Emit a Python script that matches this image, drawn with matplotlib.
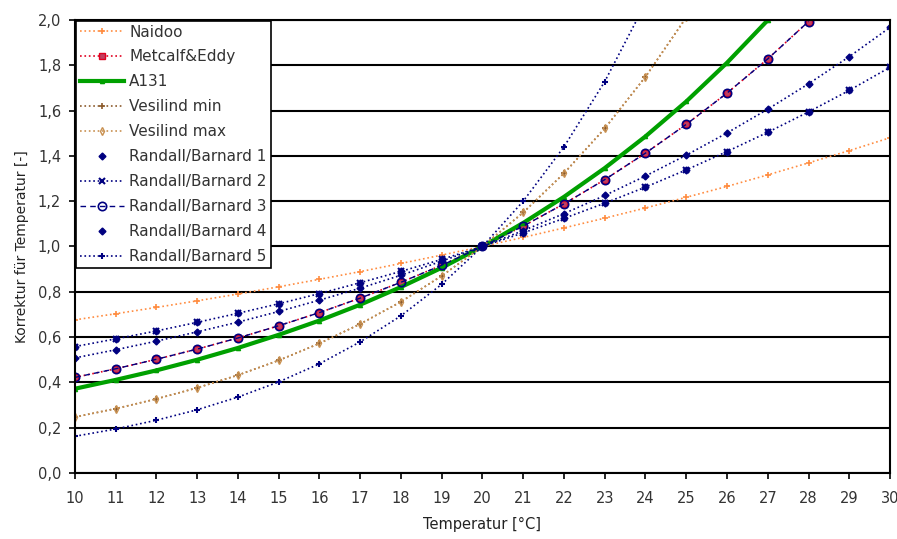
import numpy as np
import matplotlib
matplotlib.use("Agg")
import matplotlib.pyplot as plt
from matplotlib.ticker import FuncFormatter

plt.rcParams['font.family'] = ['DejaVu Sans']

# Temperatur [°C]
temp = list(range(10, 31))

naidoo = [0.676, 0.703, 0.731, 0.760, 0.790, 0.822, 0.855, 0.889, 0.925, 0.962, 1.000,
          1.040, 1.082, 1.125, 1.170, 1.217, 1.265, 1.316, 1.369, 1.423, 1.480]
metcalf = [0.422, 0.460, 0.502, 0.547, 0.596, 0.650, 0.708, 0.772, 0.842, 0.917, 1.000,
           1.090, 1.188, 1.295, 1.412, 1.539, 1.677, 1.828, 1.993]
a131 = [0.372, 0.411, 0.453, 0.500, 0.552, 0.610, 0.673, 0.743, 0.821, 0.906, 1.000,
        1.104, 1.219, 1.346, 1.486, 1.640, 1.811, 1.999]
vesilind_min = [0.247, 0.284, 0.327, 0.376, 0.432, 0.497, 0.572, 0.658, 0.756, 0.870, 1.000,
                1.150, 1.323, 1.521, 1.749, 2.011]
vesilind_max = [0.247, 0.284, 0.327, 0.376, 0.432, 0.497, 0.572, 0.658, 0.756, 0.870, 1.000,
                1.150, 1.323, 1.521, 1.749, 2.011]
rb1 = [0.558, 0.592, 0.627, 0.665, 0.705, 0.747, 0.792, 0.840, 0.890, 0.943, 1.000,
       1.060, 1.124, 1.191, 1.262, 1.338, 1.419, 1.504, 1.594, 1.689, 1.791]
rb2 = [0.558, 0.592, 0.627, 0.665, 0.705, 0.747, 0.792, 0.840, 0.890, 0.943, 1.000,
       1.060, 1.124, 1.191, 1.262, 1.338, 1.419, 1.504, 1.594, 1.689, 1.791]
rb3 = [0.422, 0.460, 0.502, 0.547, 0.596, 0.650, 0.708, 0.772, 0.842, 0.917, 1.000,
       1.090, 1.188, 1.295, 1.412, 1.539, 1.677, 1.828, 1.993]
rb4 = [0.508, 0.544, 0.582, 0.623, 0.666, 0.713, 0.763, 0.816, 0.873, 0.935, 1.000,
       1.070, 1.145, 1.225, 1.311, 1.403, 1.501, 1.606, 1.718, 1.838, 1.967]
rb5 = [0.162, 0.194, 0.233, 0.279, 0.335, 0.402, 0.482, 0.579, 0.694, 0.833, 1.000,
       1.200, 1.440, 1.728, 2.074]

navy = '#000080'

fig = plt.figure(figsize=(8.97, 5.39), dpi=100)
ax = fig.add_axes([0.0836, 0.1225, 0.9086, 0.8405])

def tt(vals):
    return temp[:len(vals)]

ax.plot(tt(naidoo), naidoo, ':', color='#FF8C40', lw=1.2, marker='+', ms=5, mew=1.2, label='Naidoo')
ax.plot(tt(metcalf), metcalf, ':', color='#E00020', lw=1.2, marker='s', ms=5, mfc='#C04060', mec='#E00020', label='Metcalf&Eddy')
ax.plot(tt(a131), a131, '-', color='#00A000', lw=3, marker='^', ms=3, label='A131')
ax.plot(tt(vesilind_min), vesilind_min, ':', color='#8B5A2B', lw=1.2, marker='+', ms=5, mew=1.2, label='Vesilind min')
ax.plot(tt(vesilind_max), vesilind_max, ':', color='#C89050', lw=1.2, marker='d', ms=4, mfc='none', label='Vesilind max')
ax.plot(tt(rb1), rb1, 'D', color=navy, ms=3.5, ls='none', label='Randall/Barnard 1')
ax.plot(tt(rb2), rb2, ':', color=navy, lw=1.2, marker='x', ms=5, mew=1.5, label='Randall/Barnard 2')
ax.plot(tt(rb3), rb3, '--', color=navy, lw=1.0, dashes=(4, 3), marker='o', ms=6, mfc='none', mew=1.2, label='Randall/Barnard 3')
ax.plot(tt(rb4), rb4, ':', color=navy, lw=1.2)
ax.plot(tt(rb4), rb4, 'D', color=navy, ms=3.5, ls='none', label='Randall/Barnard 4')
ax.plot(tt(rb5), rb5, ':', color=navy, lw=1.2, marker='+', ms=5, mew=1.5, label='Randall/Barnard 5')

ax.set_xlim(10, 30)
ax.set_ylim(0, 2.0)
ax.set_xticks(temp)
ax.set_yticks(np.arange(0, 2.01, 0.2))
ax.yaxis.set_major_formatter(FuncFormatter(lambda v, p: ('%.1f' % v).replace('.', ',')))
ax.grid(axis='y', color='black', lw=1.5)
ax.set_axisbelow(True)
for s in ax.spines.values():
    s.set_linewidth(1.5)
    s.set_color('black')
ax.tick_params(direction='out', length=4, width=1.2, labelsize=10.5, labelcolor='#333333')
ax.tick_params(axis='x', pad=9)
ax.tick_params(axis='y', pad=6)

ax.set_xlabel('Temperatur [°C]', fontsize=10.5, color='#222222', labelpad=8)
ax.set_ylabel('Korrektur für Temperatur [-]', fontsize=10, color='#222222', labelpad=6)

leg = ax.legend(loc='upper left', fontsize=11, frameon=True, fancybox=False, edgecolor='black',
                handlelength=2.9, labelspacing=0.65, borderaxespad=0.05, borderpad=0.25,
                handletextpad=0.35, framealpha=1)
leg.get_frame().set_linewidth(1.2)
for t in leg.get_texts():
    t.set_color('#333333')

fig.savefig('out.png', dpi=100)
